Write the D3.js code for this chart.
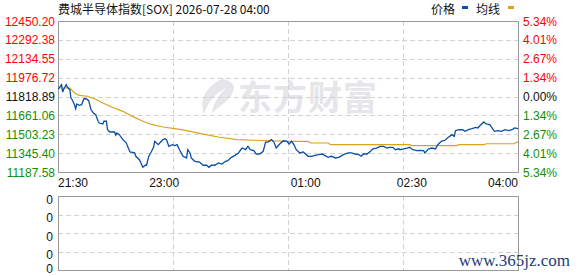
<!DOCTYPE html>
<html>
<head>
<meta charset="utf-8">
<script src="https://cdn.jsdelivr.net/npm/d3@7"></script>
<style>
  body { margin: 0; background: #fff; }
  svg { display: block; font-family: "Liberation Sans", Arial, sans-serif; }
</style>
</head>
<body>
<svg width="578" height="276"></svg>
<script>
// minutes since 21:30 and index value
const priceMin = [0,1,3,4,5,7,8,10,11,12,14,15,16,18,20,22,24,26,28,30,32,34,35,38,39,41,42,44,48,49,50,52,55,58,59,61,65,66,69,72,74,75,77,79,81,82,85,87,89,91,92,94,97,99,101,103,106,109,110,112,113,116,120,123,126,128,130,133,136,139,142,144,147,150,153,156,159,161,163,166,168,171,174,176,178,181,183,185,188,191,194,196,198,200,202,205,208,212,215,218,221,224,226,229,232,235,238,241,243,246,249,252,255,257,259,262,265,267,270,273,276,279,281,284,286,289,290,293,296,298,301,304,307,310,311,314,317,320,322,325,328,331,334,336,337,340,343,345,348,351,354,356,358,361,363,366,368,370,373,376,379,382,385,387,390];
const priceVal = [11885,11890,11918,11856,11884,11918,11896,11876,11806,11792,11750,11717,11756,11745,11750,11800,11800,11784,11708,11681,11667,11612,11597,11589,11612,11612,11541,11522,11522,11495,11514,11500,11458,11430,11402,11355,11347,11319,11290,11227,11244,11244,11319,11355,11394,11444,11416,11438,11458,11466,11458,11402,11416,11408,11416,11374,11319,11305,11374,11347,11305,11277,11271,11244,11244,11227,11244,11244,11263,11254,11277,11282,11310,11327,11347,11388,11374,11402,11374,11366,11338,11338,11361,11438,11438,11458,11438,11388,11422,11449,11444,11422,11444,11416,11374,11347,11355,11319,11319,11327,11332,11338,11327,11310,11319,11305,11310,11327,11338,11347,11347,11338,11332,11319,11338,11338,11361,11382,11388,11402,11402,11388,11394,11394,11374,11382,11374,11380,11388,11394,11374,11366,11369,11366,11347,11380,11388,11380,11416,11444,11453,11478,11500,11486,11533,11541,11541,11528,11541,11550,11561,11556,11578,11606,11589,11583,11556,11528,11533,11528,11541,11533,11541,11556,11550];

const avgMin = [0,10,14,18,25,31,38,46,55,63,72,80,89,99,109,123,137,152,166,180,196,212,214,229,231,298,300,338,340,361,363,387,389,390];
const avgVal = [11890,11890,11848,11829,11821,11800,11765,11729,11695,11653,11612,11583,11564,11550,11533,11505,11478,11458,11453,11449,11444,11444,11430,11430,11416,11416,11408,11408,11416,11416,11424,11424,11438,11438];

const prevClose = 11818.89;
const yLabels = ["12450.20","12292.38","12134.55","11976.72","11818.89","11661.06","11503.23","11345.40","11187.58"];
const pctLabels = ["5.34%","4.01%","2.67%","1.34%","0.00%","1.34%","2.67%","4.01%","5.34%"];
const timeLabels = ["21:30","23:00","01:00","02:30","04:00"];
const timeMin = [0,90,210,300,390];
const volLabels = ["0","0","0","0","0"];

const svg = d3.select("svg");
const L = 58, R = 518, T = 21, B = 172;
const VT = 196, VB = 270;

const x = d3.scaleLinear().domain([0, 390]).range([L, R]);
const y = d3.scaleLinear().domain([+yLabels[8], +yLabels[0]]).range([B, T]);
const yv = d3.scaleLinear().domain([0, 4]).range([VT, VB]);

function labelColor(i) {
  if (i < 4) return "#ff0000";
  if (i == 4) return "#111";
  return "#109000";
}

// watermark logo
const wm = svg.append("g").attr("fill", "#e5e5ea");
wm.append("path")
  .attr("d", "M222,79 C206,86 199,100 204,114 C208,103 214,94 226,88 C218,96 213,104 212,113 C222,104 233,98 234,88 C234,84 230,80 222,79 Z");
wm.append("text")
  .attr("x", 238).attr("y", 110)
  .attr("font-family", "Noto Sans CJK SC")
  .attr("font-weight", "bold")
  .attr("font-size", 34)
  .attr("textLength", 139)
  .text("东方财富");

// grid
const grid = svg.append("g")
  .attr("stroke", "#d2d2d2")
  .attr("stroke-dasharray", "5,3")
  .attr("shape-rendering", "crispEdges");
grid.selectAll(".h").data(d3.range(1, 8)).enter().append("line")
  .attr("x1", L).attr("x2", R)
  .attr("y1", i => Math.round(y(+yLabels[i])) + 0.5)
  .attr("y2", i => Math.round(y(+yLabels[i])) + 0.5);
grid.selectAll(".v").data([1, 2, 3]).enter().append("line")
  .attr("x1", i => x(390 * i / 4) + 0.5).attr("x2", i => x(390 * i / 4) + 0.5)
  .attr("y1", T).attr("y2", B);
grid.selectAll(".vh").data([1, 2, 3]).enter().append("line")
  .attr("x1", L).attr("x2", R)
  .attr("y1", i => Math.round(yv(i)) + 0.5).attr("y2", i => Math.round(yv(i)) + 0.5);
grid.selectAll(".vv").data([1, 2, 3]).enter().append("line")
  .attr("x1", i => x(390 * i / 4) + 0.5).attr("x2", i => x(390 * i / 4) + 0.5)
  .attr("y1", VT).attr("y2", VB);

// frames
svg.append("rect").attr("x", L + 0.5).attr("y", T + 0.5).attr("width", R - L).attr("height", B - T)
  .attr("fill", "none").attr("stroke", "#999").attr("shape-rendering", "crispEdges");
svg.append("rect").attr("x", L + 0.5).attr("y", VT + 0.5).attr("width", R - L).attr("height", VB - VT)
  .attr("fill", "none").attr("stroke", "#999").attr("shape-rendering", "crispEdges");

// lines
const line = d3.line().x(d => x(d[0])).y(d => y(d[1]));
svg.append("path")
  .datum(avgMin.map((m, i) => [m, avgVal[i]]))
  .attr("fill", "none").attr("stroke", "#dca21a").attr("stroke-width", 1.2)
  .attr("d", line);
svg.append("path")
  .datum(priceMin.map((m, i) => [m, priceVal[i]]))
  .attr("fill", "none").attr("stroke", "#0b4ea6").attr("stroke-width", 1.3)
  .attr("d", line);

// left price labels
svg.selectAll(".yl").data(yLabels).enter().append("text")
  .attr("x", 55).attr("y", d => y(+d) + 4.5)
  .attr("text-anchor", "end").attr("font-size", 12)
  .attr("fill", (d, i) => labelColor(i))
  .text(d => d);

// right percent labels
svg.selectAll(".pl").data(pctLabels).enter().append("text")
  .attr("x", 523).attr("y", (d, i) => y(+yLabels[i]) + 4.5)
  .attr("font-size", 12)
  .attr("fill", (d, i) => labelColor(i))
  .text(d => d);

// time labels
svg.selectAll(".tl").data(timeLabels).enter().append("text")
  .attr("x", (d, i) => x(timeMin[i]))
  .attr("y", 187)
  .attr("text-anchor", (d, i) => i == 0 ? "start" : (i == 4 ? "end" : "middle"))
  .attr("font-size", 12).attr("fill", "#111")
  .text(d => d);

// volume labels
svg.selectAll(".vl").data(volLabels).enter().append("text")
  .attr("x", 53).attr("y", (d, i) => yv(i) + (i == 4 ? 3 : 7.5))
  .attr("text-anchor", "end").attr("font-size", 12).attr("fill", "#111")
  .text(d => d);

// title
svg.append("text")
  .attr("x", 58).attr("y", 14)
  .attr("font-family", "Noto Sans CJK SC").attr("font-size", 12).attr("fill", "#111")
  .text("费城半导体指数[SOX] 2026-07-28 04:00");

// legend
svg.append("text").attr("x", 431).attr("y", 14)
  .attr("font-family", "Noto Sans CJK SC").attr("font-size", 12).attr("fill", "#111").text("价格");
svg.append("rect").attr("x", 462).attr("y", 6).attr("width", 6).attr("height", 3).attr("fill", "#0b4ea6");
svg.append("text").attr("x", 476).attr("y", 14)
  .attr("font-family", "Noto Sans CJK SC").attr("font-size", 12).attr("fill", "#111").text("均线");
svg.append("rect").attr("x", 508).attr("y", 6).attr("width", 6).attr("height", 3).attr("fill", "#dca21a");

// site watermark
svg.append("text")
  .attr("x", 570).attr("y", 266)
  .attr("text-anchor", "end")
  .attr("font-family", "Liberation Serif").attr("font-size", 17)
  .attr("fill", "#1c3c7c")
  .text("www.365jz.com");
</script>
</body>
</html>
